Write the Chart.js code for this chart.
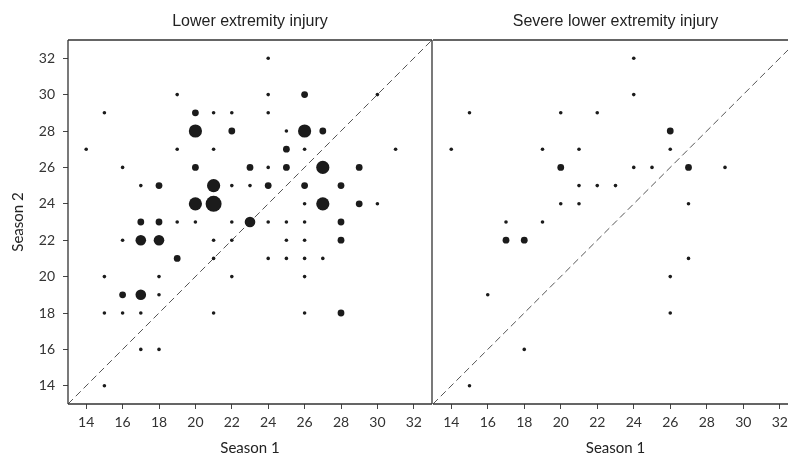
<!DOCTYPE html>
<html>
<head>
<meta charset="utf-8">
<script src="https://cdn.jsdelivr.net/npm/chart.js@4/dist/chart.umd.min.js"></script>
<style>
html, body { margin: 0; padding: 0; background: #fff; width: 788px; height: 464px; overflow: hidden; position: relative; }
#boxLower { position: absolute; left: 0; top: 0; width: 433px; height: 464px; }
#boxSevere { position: absolute; left: 432px; top: 0; width: 368px; height: 464px; }
</style>
</head>
<body>
<div id="boxLower"><canvas id="lower"></canvas></div>
<div id="boxSevere"><canvas id="severe"></canvas></div>
<script>
// axis ticks and the reference diagonal (season 1 = season 2)
const tickValues = [14, 16, 18, 20, 22, 24, 26, 28, 30, 32];
const diagonal = [13, 33];

// Lower extremity injury: season 1, season 2, number of players at that point
const lowerS1 = [24, 19, 24, 26, 30, 15, 20, 21, 22, 24, 20, 22, 25, 26, 27,
    14, 19, 21, 25, 26, 31, 16, 20, 23, 24, 25, 27, 29,
    17, 18, 21, 22, 23, 24, 26, 28, 20, 21, 26, 27, 29, 30,
    17, 18, 19, 20, 22, 23, 24, 25, 26, 28, 16, 17, 18, 21, 22, 25, 26, 28,
    19, 21, 24, 25, 26, 27, 15, 18, 22, 26, 16, 17, 18,
    15, 16, 17, 21, 26, 28, 17, 18, 15];
const lowerS2 = [32, 30, 30, 30, 30, 29, 29, 29, 29, 29, 28, 28, 28, 28, 28,
    27, 27, 27, 27, 27, 27, 26, 26, 26, 26, 26, 26, 26,
    25, 25, 25, 25, 25, 25, 25, 25, 24, 24, 24, 24, 24, 24,
    23, 23, 23, 23, 23, 23, 23, 23, 23, 23, 22, 22, 22, 22, 22, 22, 22, 22,
    21, 21, 21, 21, 21, 21, 20, 20, 20, 20, 19, 19, 19,
    18, 18, 18, 18, 18, 18, 16, 16, 14];
const lowerN = [1, 1, 1, 2, 1, 1, 2, 1, 1, 1, 4, 2, 1, 4, 2,
    1, 1, 1, 2, 1, 1, 1, 2, 2, 1, 2, 4, 2,
    1, 2, 4, 1, 1, 2, 2, 2, 4, 5, 1, 4, 2, 1,
    2, 2, 1, 1, 1, 3, 1, 1, 1, 2, 1, 3, 3, 1, 1, 1, 1, 2,
    2, 1, 1, 1, 1, 1, 1, 1, 1, 1, 2, 3, 1,
    1, 1, 1, 1, 1, 2, 1, 1, 1];

// Severe lower extremity injury
const severeS1 = [24, 24, 15, 20, 22, 26, 14, 19, 21, 26, 20, 24, 25, 27, 29,
    21, 22, 23, 20, 21, 27, 17, 19, 17, 18, 27, 26, 16, 26, 18, 15];
const severeS2 = [32, 30, 29, 29, 29, 28, 27, 27, 27, 27, 26, 26, 26, 26, 26,
    25, 25, 25, 24, 24, 24, 23, 23, 22, 22, 21, 20, 19, 18, 16, 14];
const severeN = [1, 1, 1, 1, 1, 2, 1, 1, 1, 1, 2, 1, 1, 2, 1,
    1, 1, 1, 1, 1, 1, 1, 1, 2, 2, 1, 1, 1, 1, 1, 1];

const radiusFor = { 1: 1.8, 2: 3.4, 3: 5.3, 4: 6.6, 5: 8 };

const frame = {
    id: 'frame',
    afterDatasetsDraw(chart, args, opts) {
        const { ctx, chartArea: a } = chart;
        ctx.save();
        ctx.strokeStyle = '#333';
        ctx.lineWidth = 1.3;
        ctx.beginPath();
        ctx.moveTo(a.left, a.top); ctx.lineTo(a.right, a.top);
        ctx.moveTo(a.left, a.bottom); ctx.lineTo(a.right, a.bottom);
        if (opts.sides) {
            ctx.moveTo(a.left, a.top); ctx.lineTo(a.left, a.bottom);
            ctx.moveTo(a.right, a.top); ctx.lineTo(a.right, a.bottom);
        }
        ctx.stroke();
        ctx.restore();
    }
};

const tickFont = { family: 'Lato', size: 14 };
const titleFont = { family: 'Lato', size: 15 };

// no extra room for the outer tick labels, the frame must sit where it sits
const noPad = s => { s.paddingLeft = 0; s.paddingRight = 0; s.paddingTop = 0; s.paddingBottom = 0; };

const makeChart = (id, title, xs, ys, ns, isLeft) => {
    const points = xs.map((x, i) => ({ x: x, y: ys[i] }));
    const axisGrid = { display: true, drawOnChartArea: false, drawTicks: true, tickLength: 5, color: '#444', lineWidth: 1 };
    return new Chart(document.getElementById(id), {
        type: 'scatter',
        data: {
            datasets: [{
                data: points,
                backgroundColor: '#1b1b1b',
                borderWidth: 0,
                pointRadius: ctx => radiusFor[ns[ctx.dataIndex]],
                pointHoverRadius: ctx => radiusFor[ns[ctx.dataIndex]]
            }, {
                data: diagonal.map(v => ({ x: v, y: v })),
                showLine: true,
                pointRadius: 0,
                borderColor: '#555',
                borderWidth: 1,
                borderDash: [7, 4]
            }]
        },
        options: {
            responsive: true,
            maintainAspectRatio: false,
            animation: false,
            events: [],
            layout: {
                autoPadding: false,
                padding: isLeft ? { left: 0, right: 1 } : { left: 1, right: 2 }
            },
            plugins: {
                legend: { display: false },
                tooltip: { enabled: false },
                title: {
                    display: true,
                    fullSize: false,
                    text: title,
                    font: { family: 'Liberation Sans', size: 16, weight: 'normal' },
                    color: '#222',
                    padding: { top: 12, bottom: 8.8 }
                },
                frame: { sides: isLeft }
            },
            scales: {
                x: {
                    type: 'linear',
                    min: 13, max: 33,
                    afterBuildTicks: s => { s.ticks = tickValues.map(v => ({ value: v })); },
                    afterFit: s => { s.height = 60; noPad(s); },
                    grid: axisGrid,
                    border: { display: false },
                    ticks: { font: tickFont, color: '#333', padding: 5, maxRotation: 0 },
                    title: { display: true, text: 'Season 1', font: titleFont, color: '#222', padding: { top: 7, bottom: 7 } }
                },
                y: {
                    type: 'linear',
                    display: isLeft,
                    min: 13, max: 33,
                    afterBuildTicks: s => { s.ticks = tickValues.map(v => ({ value: v })); },
                    afterFit: s => { s.width = isLeft ? 68 : 0; noPad(s); },
                    grid: axisGrid,
                    border: { display: false },
                    ticks: { font: tickFont, color: '#333', padding: 8 },
                    title: { display: true, text: 'Season 2', font: titleFont, color: '#222', padding: { top: 9, bottom: 9 } }
                }
            }
        },
        plugins: [frame]
    });
};

makeChart('lower', 'Lower extremity injury', lowerS1, lowerS2, lowerN, true);
makeChart('severe', 'Severe lower extremity injury', severeS1, severeS2, severeN, false);
</script>
</body>
</html>
